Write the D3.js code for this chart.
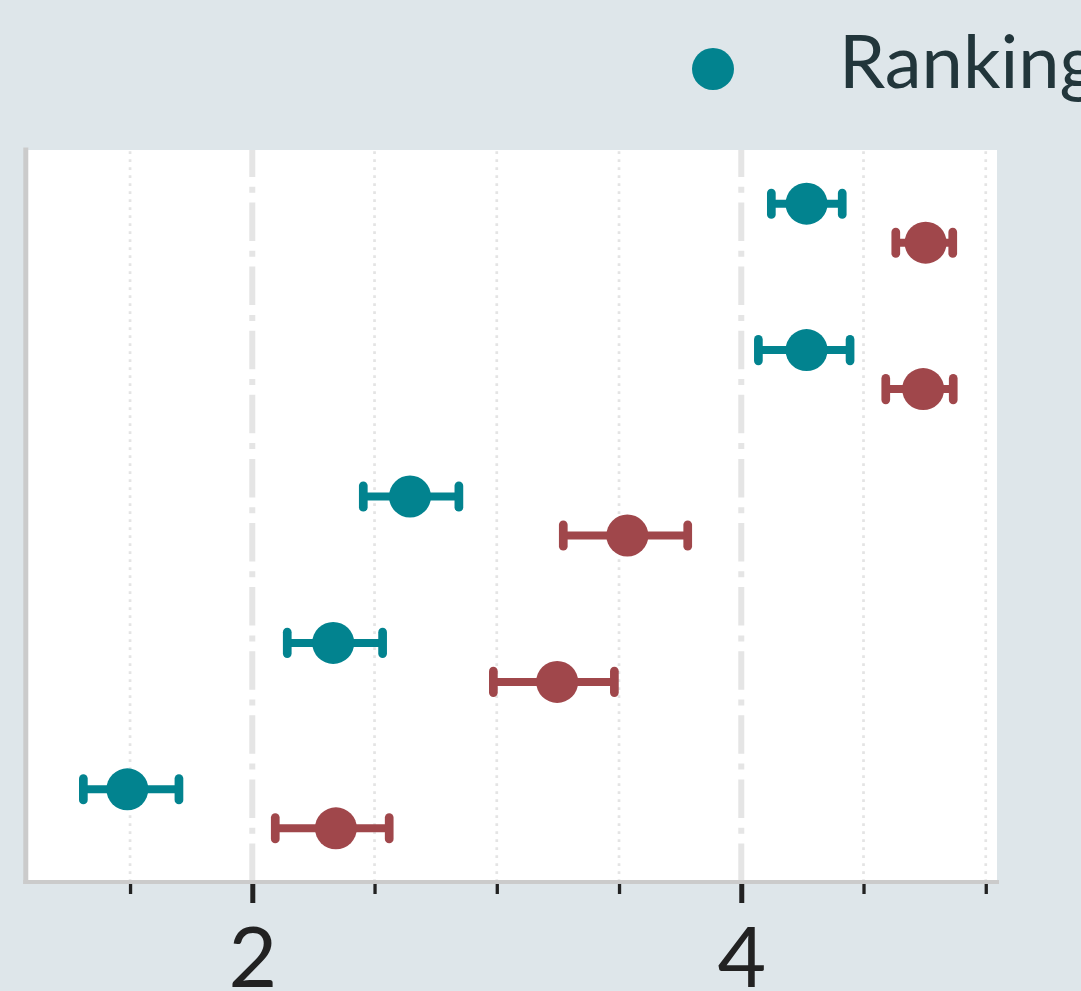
<!DOCTYPE html>
<html>
<head>
<meta charset="utf-8">
<script src="https://cdn.jsdelivr.net/npm/d3@7/dist/d3.min.js"></script>
<style>
  html, body { margin: 0; padding: 0; background: #dee6ea; overflow: hidden; }
  svg { display: block; }
</style>
</head>
<body>
<svg id="chart" width="1081" height="991"></svg>
<script>
// Items, top to bottom
const categories = ["Item 1", "Item 2", "Item 3", "Item 4", "Item 5"];
const seriesNames = ["Ranking", "Rating"];
const seriesColors = ["#02838f", "#a0474b"];

// Means with lower / upper interval bounds
const rankingMean  = [4.267, 4.267, 2.645, 2.331, 1.489];
const rankingLow   = [4.123, 4.070, 2.454, 2.143, 1.309];
const rankingHigh  = [4.413, 4.445, 2.845, 2.533, 1.700];
const ratingMean   = [4.754, 4.744, 3.534, 3.247, 2.342];
const ratingLow    = [4.632, 4.591, 3.272, 2.986, 2.094];
const ratingHigh   = [4.865, 4.867, 3.781, 3.481, 2.560];

const majorTicks = [2, 4];
const minorTicks = [1.5, 2.5, 3, 3.5, 4.5, 5];

const series = [
  { name: seriesNames[0], color: seriesColors[0], mean: rankingMean, low: rankingLow, high: rankingHigh, dy: -19.5 },
  { name: seriesNames[1], color: seriesColors[1], mean: ratingMean,  low: ratingLow,  high: ratingHigh,  dy: 19.5 }
];

const svg = d3.select("#chart");
const panel = { left: 28, right: 997, top: 150, bottom: 882 };

const x = d3.scaleLinear().domain([1.0826, 5.046]).range([panel.left, panel.right]);
const y = d3.scaleBand().domain(categories).range([panel.top, panel.bottom]).padding(0);

// Panel background
svg.append("rect")
  .attr("x", panel.left).attr("y", panel.top)
  .attr("width", panel.right - panel.left).attr("height", panel.bottom - panel.top)
  .attr("fill", "#ffffff");

// Minor grid (dotted)
svg.append("g").selectAll("line").data(minorTicks).join("line")
  .attr("x1", d => x(d)).attr("x2", d => x(d))
  .attr("y1", panel.bottom).attr("y2", panel.top)
  .attr("stroke", "#e4e4e4").attr("stroke-width", 2.7)
  .attr("stroke-dasharray", "2.7,5.3");

// Major grid (dash-dot), drawn upward from the baseline
svg.append("g").selectAll("line").data(majorTicks).join("line")
  .attr("x1", d => x(d)).attr("x2", d => x(d))
  .attr("y1", panel.bottom).attr("y2", panel.top)
  .attr("stroke", "#e5e5e5").attr("stroke-width", 6)
  .attr("stroke-dasharray", "38.5,9.8,6,9.8");

// Panel border lines (left and bottom)
svg.append("line")
  .attr("x1", 25.8).attr("x2", 25.8).attr("y1", 147.5).attr("y2", 884)
  .attr("stroke", "#cbcbcb").attr("stroke-width", 5);
svg.append("line")
  .attr("x1", 23.3).attr("x2", 999).attr("y1", 882).attr("y2", 882)
  .attr("stroke", "#cbcbcb").attr("stroke-width", 4);

// X axis: major ticks with labels, minor ticks without
const axisMajor = d3.axisBottom(x).tickValues(majorTicks).tickSize(19).tickPadding(20).tickFormat(d3.format("d"));
const gMajor = svg.append("g").attr("transform", `translate(0,${884})`).call(axisMajor);
gMajor.select(".domain").remove();
gMajor.selectAll(".tick line").attr("stroke", "#222").attr("stroke-width", 5);
gMajor.selectAll(".tick text")
  .attr("fill", "#222")
  .attr("font-family", "Lato, sans-serif")
  .attr("font-size", 84)
  .attr("dy", null)
  .attr("y", 103);

const axisMinor = d3.axisBottom(x).tickValues(minorTicks).tickSize(10).tickFormat("");
const gMinor = svg.append("g").attr("transform", `translate(0,${884})`).call(axisMinor);
gMinor.select(".domain").remove();
gMinor.selectAll(".tick line").attr("stroke", "#222").attr("stroke-width", 3.3);

// Interval bars, caps and points
series.forEach(s => {
  const g = svg.append("g").attr("fill", s.color).attr("stroke", s.color);
  const rows = categories.map((c, i) => ({ c, mean: s.mean[i], low: s.low[i], high: s.high[i] }));
  const cy = d => y(d.c) + y.bandwidth() / 2 + s.dy;

  g.selectAll("line.bar").data(rows).join("line").attr("class", "bar")
    .attr("x1", d => x(d.low)).attr("x2", d => x(d.high))
    .attr("y1", cy).attr("y2", cy)
    .attr("stroke-width", 8);

  g.selectAll("line.capl").data(rows).join("line").attr("class", "capl")
    .attr("x1", d => x(d.low)).attr("x2", d => x(d.low))
    .attr("y1", d => cy(d) - 10.7).attr("y2", d => cy(d) + 10.7)
    .attr("stroke-width", 8.7).attr("stroke-linecap", "round");

  g.selectAll("line.caph").data(rows).join("line").attr("class", "caph")
    .attr("x1", d => x(d.high)).attr("x2", d => x(d.high))
    .attr("y1", d => cy(d) - 10.7).attr("y2", d => cy(d) + 10.7)
    .attr("stroke-width", 8.7).attr("stroke-linecap", "round");

  g.selectAll("circle").data(rows).join("circle")
    .attr("cx", d => x(d.mean)).attr("cy", cy).attr("r", 21)
    .attr("stroke", "none");
});

// Legend
const legend = svg.append("g").attr("font-family", "Lato, sans-serif").attr("font-size", 74).attr("fill", "#22363b");
let lx = 713;
series.forEach(s => {
  legend.append("circle").attr("cx", lx).attr("cy", 69).attr("r", 21).attr("fill", s.color);
  const t = legend.append("text").attr("x", lx + 126).attr("y", 88).text(s.name);
  lx += 126 + t.node().getComputedTextLength() + 110;
});
</script>
</body>
</html>
